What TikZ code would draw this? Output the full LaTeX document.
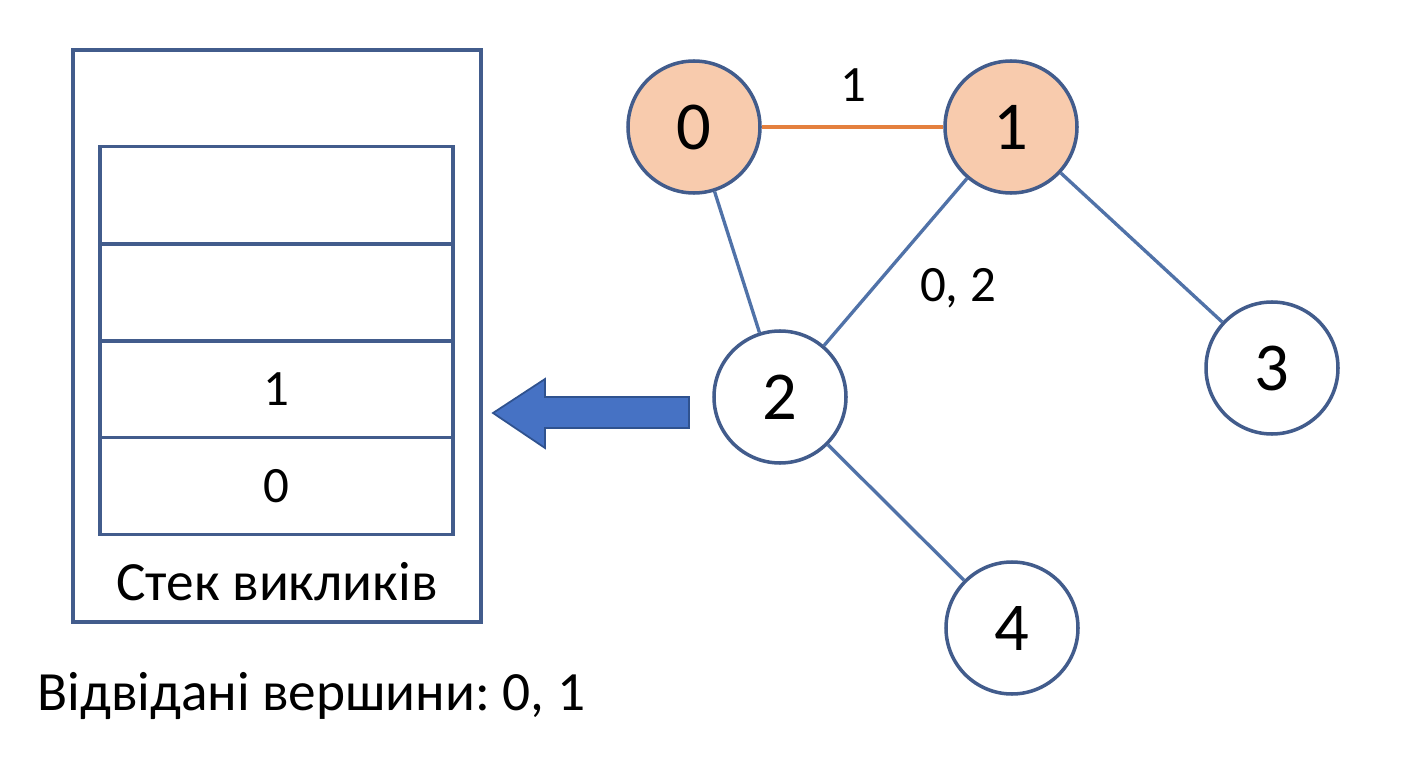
\documentclass[tikz,border=0pt]{standalone}
\usepackage{fontspec}
\setmainfont{Carlito}
\usepackage{tikz}
\usetikzlibrary{positioning}
\definecolor{vertexline}{RGB}{66,92,140}
\definecolor{edgeblue}{RGB}{80,114,168}
\definecolor{visited}{RGB}{248,203,173}
\definecolor{treeedge}{RGB}{228,128,62}
\definecolor{pushfill}{RGB}{70,114,196}
\definecolor{pushline}{RGB}{47,82,143}
\frenchspacing

\begin{document}
\begin{tikzpicture}[
	vertex/.style={circle, draw=vertexline, line width=2pt, fill=white, minimum size=2.64cm, inner sep=0pt, font=\fontsize{39}{46}\selectfont},
	seen/.style={vertex, fill=visited},
	cell/.style={rectangle, draw=vertexline, line width=2pt, minimum width=7.06cm, minimum height=1.94cm, inner sep=0pt, font=\fontsize{29}{35}\selectfont},
	edge/.style={draw=edgeblue, line width=1.9pt},
	lbl/.style={font=\fontsize{29}{35}\selectfont, inner sep=0pt}
	]
	\useasboundingbox (0,0) rectangle (28.16,-15.36);
	\draw [draw=vertexline, line width=2pt] (1.46,-1.0) rectangle (9.62,-12.44);
	\node [cell] (c1) at (5.53,-3.9) {};
	\node [cell] (c2) at (5.53,-5.85) {};
	\node [cell] (c3) at (5.53,-7.78) {1};
	\node [cell] (c4) at (5.53,-9.72) {0};
	\node [lbl, font=\fontsize{31.5}{38}\selectfont] (stack) at (5.54,-11.64) {Стек викликів};
	\node [lbl, anchor=west, font=\fontsize{31.5}{38}\selectfont] (visitedtext) at (0.74,-13.92) {Відвідані вершини: 0, 1};
	\node [seen] (0) at (13.88, -2.54) {0};
	\node [seen] (1) at (20.22, -2.54) {1};
	\node [vertex] (2) at (15.6, -7.94) {2};
	\node [vertex] (3) at (25.44, -7.36) {3};
	\node [vertex] (4) at (20.24, -12.56) {4};
	\node [lbl] (w01) at (17.06, -1.7) {1};
	\node [lbl] (w12) at (19.16, -5.76) {0, 2};
	\draw [draw=treeedge, line width=2.2pt] (0) to (1);
	\draw [edge] (0) to (2);
	\draw [edge] (1) to (2);
	\draw [edge] (1) to (3);
	\draw [edge] (2) to (4);
	\draw [fill=pushfill, draw=pushline, line width=1pt] (13.78,-7.94) -- (10.9,-7.94) -- (10.9,-7.58) -- (9.86,-8.26) -- (10.9,-8.96) -- (10.9,-8.56) -- (13.78,-8.56) -- cycle;
\end{tikzpicture}
\end{document}
